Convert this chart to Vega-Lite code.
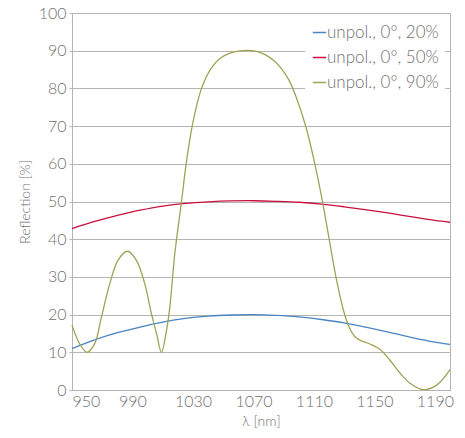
{
  "$schema": "https://vega.github.io/schema/vega-lite/v6.json",
  "width": 378,
  "height": 377,
  "autosize": "none",
  "padding": {"left": 72, "top": 13, "right": 15, "bottom": 48},
  "background": "white",
  "config": {
    "view": {"stroke": "#b4b4b4", "strokeWidth": 1},
    "font": "Lato",
    "axis": {
      "labelFont": "Lato",
      "titleFont": "Lato",
      "labelColor": "#707070",
      "titleColor": "#707070",
      "labelFontSize": 16,
      "labelFontWeight": 300,
      "titleFontSize": 14,
      "titleFontWeight": 300,
      "domainColor": "#b4b4b4",
      "tickColor": "#b4b4b4",
      "gridColor": "#b4b4b4",
      "gridOpacity": 1
    },
    "legend": {
      "labelFont": "Lato",
      "labelFontSize": 17,
      "labelFontWeight": 300,
      "labelColor": "#707070"
    }
  },
  "data": {
    "values": [
      {"series": "unpol., 0°, 20%", "wl": 950, "r": 11.0},
      {"series": "unpol., 0°, 20%", "wl": 965, "r": 13.3},
      {"series": "unpol., 0°, 20%", "wl": 980, "r": 15.2},
      {"series": "unpol., 0°, 20%", "wl": 995, "r": 16.7},
      {"series": "unpol., 0°, 20%", "wl": 1010, "r": 18.0},
      {"series": "unpol., 0°, 20%", "wl": 1025, "r": 19.0},
      {"series": "unpol., 0°, 20%", "wl": 1040, "r": 19.6},
      {"series": "unpol., 0°, 20%", "wl": 1055, "r": 19.9},
      {"series": "unpol., 0°, 20%", "wl": 1070, "r": 20.0},
      {"series": "unpol., 0°, 20%", "wl": 1085, "r": 19.8},
      {"series": "unpol., 0°, 20%", "wl": 1100, "r": 19.4},
      {"series": "unpol., 0°, 20%", "wl": 1115, "r": 18.7},
      {"series": "unpol., 0°, 20%", "wl": 1130, "r": 17.8},
      {"series": "unpol., 0°, 20%", "wl": 1145, "r": 16.6},
      {"series": "unpol., 0°, 20%", "wl": 1160, "r": 15.3},
      {"series": "unpol., 0°, 20%", "wl": 1175, "r": 13.9},
      {"series": "unpol., 0°, 20%", "wl": 1190, "r": 12.7},
      {"series": "unpol., 0°, 20%", "wl": 1200, "r": 12.1},
      {"series": "unpol., 0°, 50%", "wl": 950, "r": 42.8},
      {"series": "unpol., 0°, 50%", "wl": 965, "r": 44.7},
      {"series": "unpol., 0°, 50%", "wl": 980, "r": 46.3},
      {"series": "unpol., 0°, 50%", "wl": 995, "r": 47.7},
      {"series": "unpol., 0°, 50%", "wl": 1010, "r": 48.8},
      {"series": "unpol., 0°, 50%", "wl": 1025, "r": 49.5},
      {"series": "unpol., 0°, 50%", "wl": 1040, "r": 49.9},
      {"series": "unpol., 0°, 50%", "wl": 1055, "r": 50.15},
      {"series": "unpol., 0°, 50%", "wl": 1070, "r": 50.2},
      {"series": "unpol., 0°, 50%", "wl": 1085, "r": 50.05},
      {"series": "unpol., 0°, 50%", "wl": 1100, "r": 49.8},
      {"series": "unpol., 0°, 50%", "wl": 1115, "r": 49.3},
      {"series": "unpol., 0°, 50%", "wl": 1130, "r": 48.6},
      {"series": "unpol., 0°, 50%", "wl": 1145, "r": 47.8},
      {"series": "unpol., 0°, 50%", "wl": 1160, "r": 46.9},
      {"series": "unpol., 0°, 50%", "wl": 1175, "r": 45.9},
      {"series": "unpol., 0°, 50%", "wl": 1190, "r": 45.0},
      {"series": "unpol., 0°, 50%", "wl": 1200, "r": 44.5},
      {"series": "unpol., 0°, 90%", "wl": 950, "r": 17.2},
      {"series": "unpol., 0°, 90%", "wl": 955, "r": 12.3},
      {"series": "unpol., 0°, 90%", "wl": 960, "r": 10.0},
      {"series": "unpol., 0°, 90%", "wl": 965, "r": 12.3},
      {"series": "unpol., 0°, 90%", "wl": 969.5, "r": 19.4},
      {"series": "unpol., 0°, 90%", "wl": 975, "r": 28.2},
      {"series": "unpol., 0°, 90%", "wl": 980.4, "r": 34.4},
      {"series": "unpol., 0°, 90%", "wl": 986.7, "r": 36.8},
      {"series": "unpol., 0°, 90%", "wl": 992.6, "r": 34.4},
      {"series": "unpol., 0°, 90%", "wl": 998.1, "r": 28.2},
      {"series": "unpol., 0°, 90%", "wl": 1002.5, "r": 20.3},
      {"series": "unpol., 0°, 90%", "wl": 1006, "r": 14.8},
      {"series": "unpol., 0°, 90%", "wl": 1009.2, "r": 10.0},
      {"series": "unpol., 0°, 90%", "wl": 1012.5, "r": 15.8},
      {"series": "unpol., 0°, 90%", "wl": 1014.7, "r": 22.0},
      {"series": "unpol., 0°, 90%", "wl": 1018, "r": 36.2},
      {"series": "unpol., 0°, 90%", "wl": 1022.4, "r": 49.9},
      {"series": "unpol., 0°, 90%", "wl": 1025.5, "r": 60.0},
      {"series": "unpol., 0°, 90%", "wl": 1029.5, "r": 70.0},
      {"series": "unpol., 0°, 90%", "wl": 1035.5, "r": 79.8},
      {"series": "unpol., 0°, 90%", "wl": 1042, "r": 85.3},
      {"series": "unpol., 0°, 90%", "wl": 1048, "r": 88.0},
      {"series": "unpol., 0°, 90%", "wl": 1054, "r": 89.3},
      {"series": "unpol., 0°, 90%", "wl": 1060, "r": 89.9},
      {"series": "unpol., 0°, 90%", "wl": 1066, "r": 90.1},
      {"series": "unpol., 0°, 90%", "wl": 1072, "r": 89.8},
      {"series": "unpol., 0°, 90%", "wl": 1078, "r": 88.9},
      {"series": "unpol., 0°, 90%", "wl": 1084, "r": 87.2},
      {"series": "unpol., 0°, 90%", "wl": 1089, "r": 85.0},
      {"series": "unpol., 0°, 90%", "wl": 1093.5, "r": 82.2},
      {"series": "unpol., 0°, 90%", "wl": 1098, "r": 78.0},
      {"series": "unpol., 0°, 90%", "wl": 1104.5, "r": 70.1},
      {"series": "unpol., 0°, 90%", "wl": 1110.6, "r": 60.0},
      {"series": "unpol., 0°, 90%", "wl": 1115.7, "r": 49.9},
      {"series": "unpol., 0°, 90%", "wl": 1120.1, "r": 40.0},
      {"series": "unpol., 0°, 90%", "wl": 1124.5, "r": 30.1},
      {"series": "unpol., 0°, 90%", "wl": 1130, "r": 20.5},
      {"series": "unpol., 0°, 90%", "wl": 1133.5, "r": 16.5},
      {"series": "unpol., 0°, 90%", "wl": 1137, "r": 14.2},
      {"series": "unpol., 0°, 90%", "wl": 1141, "r": 13.1},
      {"series": "unpol., 0°, 90%", "wl": 1147, "r": 12.2},
      {"series": "unpol., 0°, 90%", "wl": 1153.6, "r": 10.8},
      {"series": "unpol., 0°, 90%", "wl": 1160.3, "r": 7.9},
      {"series": "unpol., 0°, 90%", "wl": 1166.9, "r": 4.5},
      {"series": "unpol., 0°, 90%", "wl": 1173.5, "r": 1.8},
      {"series": "unpol., 0°, 90%", "wl": 1182.3, "r": 0.1},
      {"series": "unpol., 0°, 90%", "wl": 1191.2, "r": 1.3},
      {"series": "unpol., 0°, 90%", "wl": 1200, "r": 5.4}
    ]
  },
  "mark": {"type": "line", "interpolate": "catmull-rom", "strokeWidth": 1.3},
  "encoding": {
    "x": {
      "field": "wl",
      "type": "quantitative",
      "scale": {"domain": [950, 1200], "nice": false, "zero": false},
      "axis": {
        "title": "λ [nm]",
        "values": [950, 990, 1030, 1070, 1110, 1150, 1190],
        "format": "d",
        "grid": false,
        "ticks": false,
        "labelPadding": 3,
        "titlePadding": 5
      }
    },
    "y": {
      "field": "r",
      "type": "quantitative",
      "scale": {"domain": [0, 100], "nice": false},
      "axis": {
        "title": "Reflection [%]",
        "values": [0, 10, 20, 30, 40, 50, 60, 70, 80, 90, 100],
        "tickSize": 3,
        "labelPadding": 3,
        "titlePadding": 6
      }
    },
    "color": {
      "field": "series",
      "type": "nominal",
      "scale": {
        "domain": ["unpol., 0°, 20%", "unpol., 0°, 50%", "unpol., 0°, 90%"],
        "range": ["#4a84c4", "#c8103c", "#9da456"]
      },
      "legend": {
        "title": null,
        "orient": "top-right",
        "offset": 5,
        "padding": 6,
        "fillColor": "white",
        "symbolType": "stroke",
        "symbolSize": 180,
        "symbolStrokeWidth": 1.5,
        "labelOffset": -1,
        "rowPadding": 7
      }
    }
  }
}
